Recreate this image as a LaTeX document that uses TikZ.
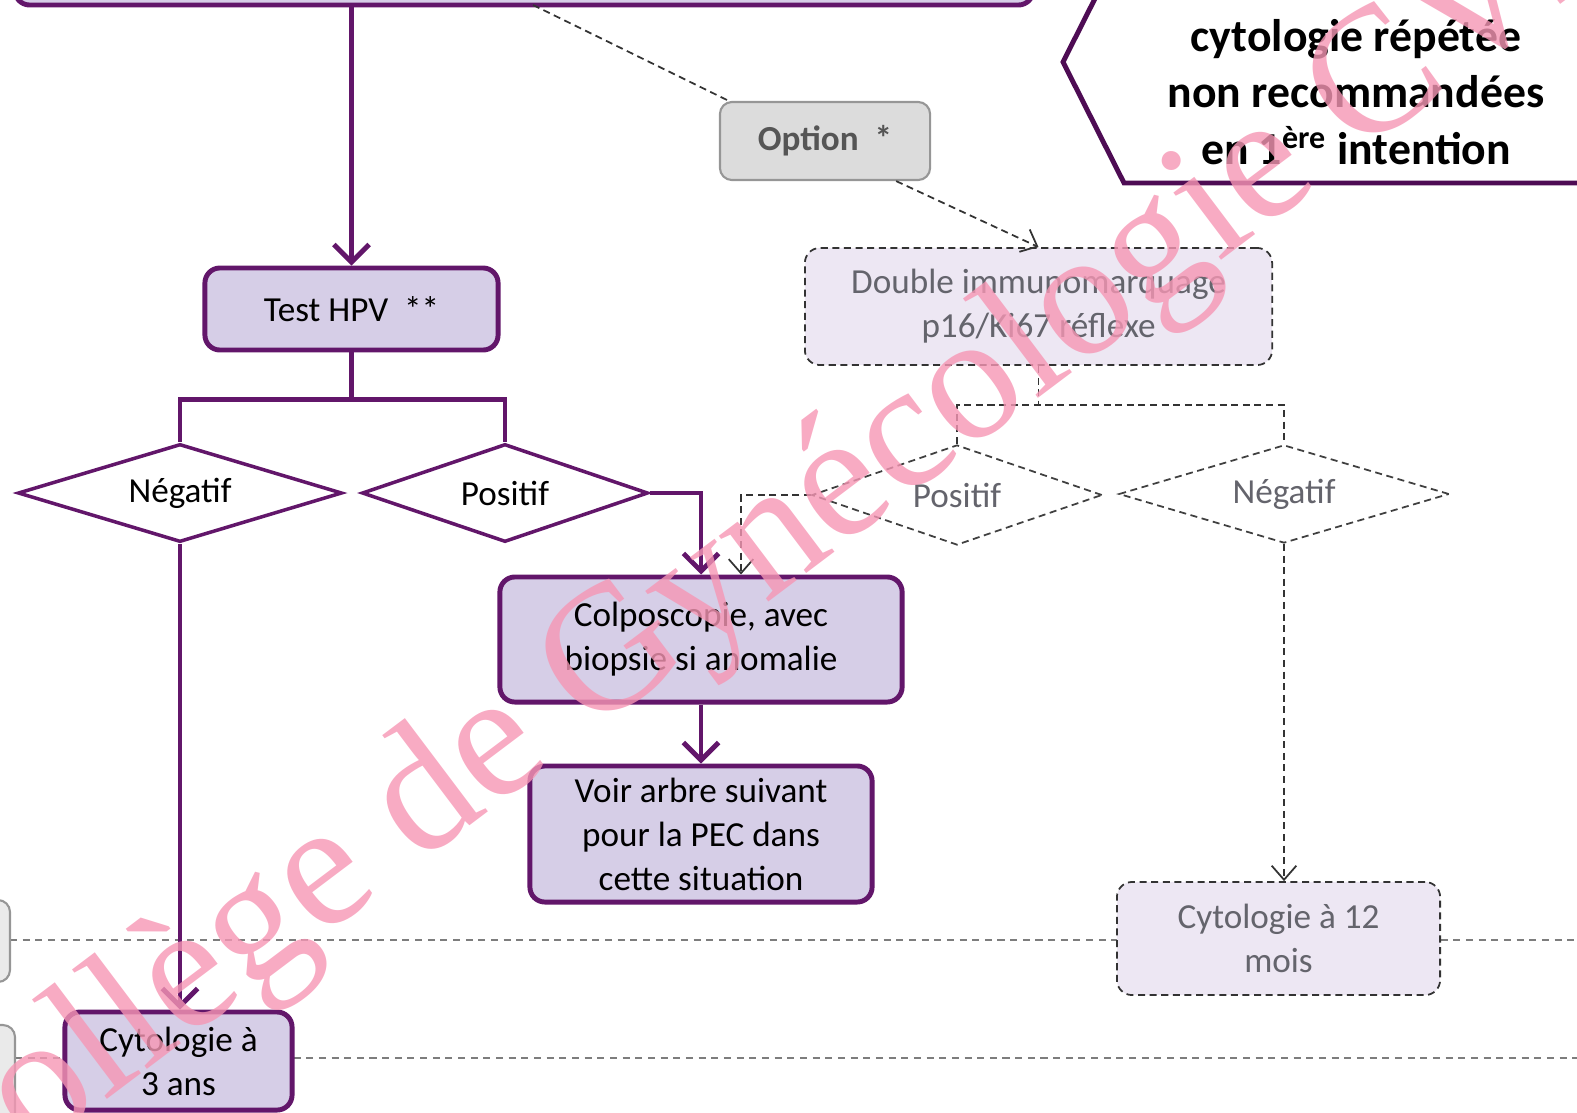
\documentclass[tikz,border=0pt]{standalone}
\usepackage{fontspec}
\setmainfont{Carlito}
\newfontfamily\wmfont{Liberation Serif}
\usetikzlibrary{positioning,shapes.geometric,arrows.meta,calc}
\definecolor{pline}{RGB}{98,22,106}
\definecolor{hexline}{RGB}{78,12,84}
\definecolor{pfill}{RGB}{214,206,231}
\definecolor{dfill}{RGB}{237,231,243}
\definecolor{dtext}{RGB}{100,100,108}
\definecolor{ofill}{RGB}{220,220,220}
\definecolor{oline}{RGB}{150,150,150}
\definecolor{otext}{RGB}{85,85,85}
\definecolor{lanegray}{RGB}{125,125,125}
\definecolor{wmpink}{RGB}{246,150,180}
\tikzset{
  pbox/.style={draw=pline,line width=1.4pt,fill=pfill,rounded corners=0.15cm,
               align=center,inner sep=0pt},
  dbox/.style={draw=black!80,dash pattern=on 2pt off 1.3pt,line width=0.5pt,
               fill=dfill,text=dtext,rounded corners=0.15cm,align=center,inner sep=0pt},
  obox/.style={draw=oline,line width=0.6pt,fill=ofill,text=otext,font=\bfseries,
               rounded corners=0.12cm,inner sep=0pt},
  pdiam/.style={diamond,aspect=3,draw=pline,line width=1pt,fill=white,inner sep=0pt},
  ddiam/.style={diamond,aspect=3,draw=black!75,dash pattern=on 2pt off 1.3pt,
                line width=0.5pt,text=dtext,inner sep=0pt},
  pline/.style={draw=pline,line width=1.4pt},
  parrow/.style={pline,-{Straight Barb[length=5pt,width=10pt]}},
  dline/.style={draw=black!80,dash pattern=on 2pt off 1.3pt,line width=0.5pt},
  darrow/.style={dline,-{Straight Barb[length=4pt,width=7pt]}},
  laneline/.style={draw=lanegray,dash pattern=on 2pt off 1.6pt,line width=0.4pt},
  lanebox/.style={draw=oline,line width=0.6pt,fill=ofill!60,rounded corners=0.12cm},
  wm/.style={text=wmpink,text opacity=0.8,font=\wmfont\fontsize{51}{51}\selectfont,inner sep=0pt}
}

\begin{document}
\begin{tikzpicture}[x=0.01cm,y=-0.01cm,font=\fontsize{10}{12.5}\selectfont]
% Frame of the picture
\useasboundingbox (0,0) rectangle (1577,1112);
\clip (0,0) rectangle (1577,1112);
% Lanes and their labels at the left edge
\draw[laneline] (10,940) -- (1577,940);
\draw[laneline] (15,1058) -- (1577,1058);
\draw[lanebox] (-60,900) rectangle (10,982);
\draw[lanebox] (-60,1025) rectangle (15,1130);
% Box above the picture and the hexagon note
\node[pbox,minimum width=10.18cm,minimum height=1.2cm] (bilan) at (524,-55) {};
\draw[line width=1.4pt,draw=hexline,fill=white]
  (1600,183) -- (1124,183) -- (1063,62) -- (1124,-59) -- (1600,-59);
\node[font=\bfseries\fontsize{13}{16}\selectfont,align=center] (nonrec) at (1356,92)
  {cytologie répétée\\non recommandées\\en 1\textsuperscript{ère} intention};
% Main path
\node[pbox,minimum width=2.93cm,minimum height=0.82cm] (hpv) at (351.5,309) {Test HPV\ \ **};
\node[pdiam,minimum width=3.24cm,minimum height=0.98cm] (neg) at (180,493) {Négatif};
\node[pdiam,minimum width=2.86cm,minimum height=0.98cm] (pos) at (505,493) {Positif};
\node[pbox,minimum width=4.02cm,minimum height=1.25cm] (colpo) at (701,639.5)
  {Colposcopie, avec\\biopsie si anomalie};
\node[pbox,minimum width=3.42cm,minimum height=1.36cm] (voir) at (701,834)
  {Voir arbre suivant\\pour la PEC dans\\cette situation};
\node[pbox,minimum width=2.27cm,minimum height=0.98cm] (cyto3) at (178.5,1061)
  {Cytologie à\\3 ans};
% Optional path
\node[obox,minimum width=2.1cm,minimum height=0.78cm] (option) at (825,141)
  {Option\ \ *};
\node[dbox,minimum width=4.67cm,minimum height=1.17cm] (double) at (1038.5,306.5)
  {Double immunomarquage\\p16/Ki67 réflexe};
\node[ddiam,minimum width=2.9cm,minimum height=1cm] (dpos) at (957,495) {Positif};
\node[ddiam,minimum width=3.3cm,minimum height=0.98cm] (dneg) at (1284,494) {Négatif};
\node[dbox,minimum width=3.23cm,minimum height=1.13cm] (cyto12) at (1278.5,938.5)
  {Cytologie à 12\\mois};
% Connectors of the main path
\draw[parrow] (hpv.north |- bilan.south) -- (hpv.north);
\coordinate (fork) at ($(hpv.south)+(0,47)$);
\draw[pline] (hpv.south) -- (fork);
\draw[pline] (neg.north) |- (fork) -| (pos.north);
\draw[parrow] (pos.east) -| (colpo.north);
\draw[parrow] (neg.south) -- (neg.south |- cyto3.north);
\draw[parrow] (colpo.south) -- (voir.north);
% Connectors of the optional path
\coordinate (dstart) at (533,5);
\draw[dline] (dstart) -- ($(option.north west)+(10,0)$);
\draw[darrow] ($(option.south east)+(-35,0)$) -- (double.north);
\coordinate (dfork) at ($(double.south)+(0,39)$);
\draw[dline] (double.south) -- (dfork);
\draw[dline] (dpos.north) |- (dfork) -| (dneg.north);
\draw[darrow] (dpos.west) -| ($(colpo.north)+(40,0)$);
\draw[darrow] (dneg.south) -- (dneg.south |- cyto12.north);
% Watermark
\node[wm,anchor=base west,rotate=37] (wmark) at (-63,1228) {Collège de Gynécologie CVL};
\end{tikzpicture}
\end{document}
